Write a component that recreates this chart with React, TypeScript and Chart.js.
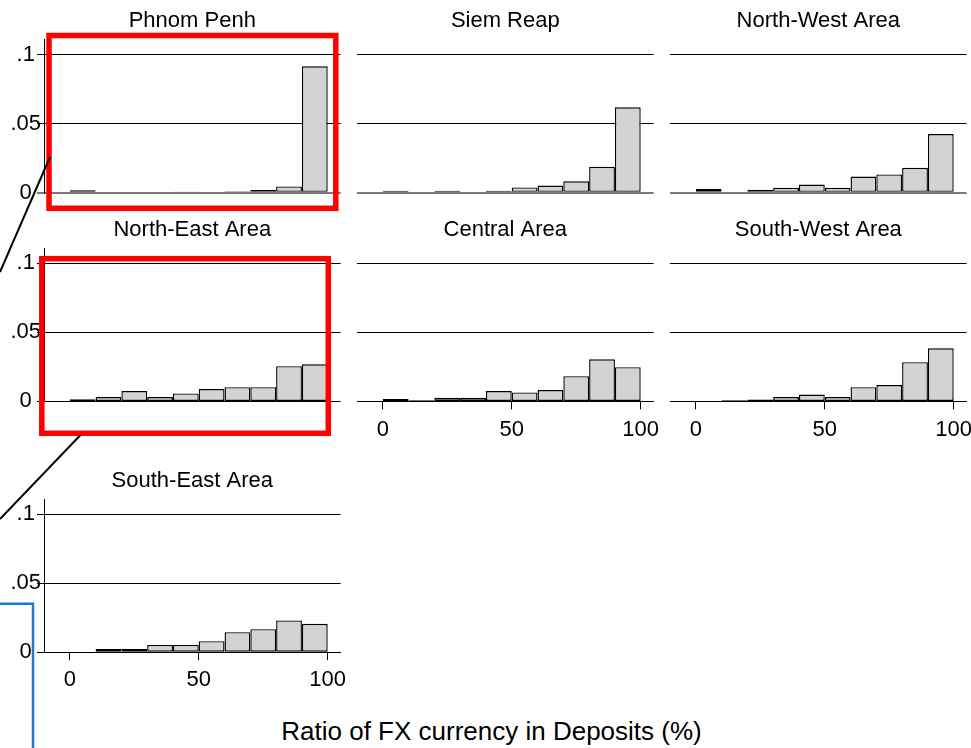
import React, { useEffect, useRef } from 'react';
import { Chart, registerables } from 'chart.js';

Chart.register(...registerables);

// ---------------- DATA ----------------
const regionNames = [
  'Phnom Penh',
  'Siem Reap',
  'North-West Area',
  'North-East Area',
  'Central Area',
  'South-West Area',
  'South-East Area',
];

// histogram bins (width 10) centred at these values
const binCenters = [5, 15, 25, 35, 45, 55, 65, 75, 85, 95];

const phnomPenh = [0.0018, null, null, null, 0.0009, null, 0.0012, 0.0021, 0.0046, 0.0916];
const siemReap = [0.0015, null, 0.0015, null, 0.0015, 0.0039, 0.0053, 0.0083, 0.0188, 0.0619];
const northWest = [0.0027, null, 0.0022, 0.0036, 0.006, 0.0036, 0.0118, 0.0133, 0.0181, 0.0425];
const northEast = [0.0015, 0.0031, 0.0075, 0.0031, 0.0058, 0.0089, 0.0103, 0.0103, 0.0255, 0.0269];
const central = [0.0018, 0.0009, 0.0026, 0.0026, 0.0075, 0.0065, 0.0082, 0.0183, 0.0305, 0.0248];
const southWest = [null, 0.0009, 0.0014, 0.0031, 0.005, 0.0031, 0.0103, 0.0118, 0.0284, 0.0385];
const southEast = [0.0004, 0.0024, 0.0024, 0.0053, 0.0053, 0.008, 0.0145, 0.0167, 0.023, 0.0206];

const regionSeries = [phnomPenh, siemReap, northWest, northEast, central, southWest, southEast];

const xTickValues = [0, 50, 100];
const xTickLabels = ['0', '50', '100'];
const yTickValues = [0, 0.05, 0.1];
const yTickLabels = ['0', '.05', '.1'];
const xAxisTitle = 'Ratio of FX currency in Deposits (%)';

// ---------------- LAYOUT ----------------
const FONT = '"Liberation Sans", Arial, Helvetica, sans-serif';
const X_MIN = -10;
const X_MAX = 105;
const Y_MAX = 0.111;
const COL_LEFT = [44, 357, 670];
const PLOT_W = 296.6;
const ROW_TOP = [39.5, 248.2, 499];
const ROW_BOTTOM = [192.8, 401.4, 652.2];
const Y_AXIS_W = 44;
const TITLE_FONT = 22;
const TITLE_PAD_BOTTOM = 5;
const TITLE_H = TITLE_FONT * 1.2 + TITLE_PAD_BOTTOM;
const X_AXIS_H = 45;
const RIGHT_PAD = 22;
// bars thinner than this are rendered as solid outline (as the outline fills them)
const THIN_BAR = 0.002;

Chart.defaults.font.family = FONT;
Chart.defaults.color = '#000';

function Panel({ index }: { index: number }) {
  const ref = useRef<HTMLCanvasElement | null>(null);
  const row = Math.floor(index / 3);
  const col = index % 3;
  const hasYAxis = col === 0;
  const hasXAxis = index >= 4;
  const canvasLeft = COL_LEFT[col] - Y_AXIS_W;
  const canvasTop = Math.floor(ROW_TOP[row] - 40);
  const width = Math.ceil(Y_AXIS_W + PLOT_W + RIGHT_PAD);
  const height = Math.ceil(ROW_BOTTOM[row] - canvasTop + 50);
  const padTop = ROW_TOP[row] - canvasTop - TITLE_H;
  const padRight = width - Y_AXIS_W - PLOT_W;
  const padBottom = height - (ROW_BOTTOM[row] - canvasTop) - (hasXAxis ? X_AXIS_H : 0);
  const padLeft = hasYAxis ? 0 : Y_AXIS_W;

  useEffect(() => {
    if (!ref.current) return;
    const series = regionSeries[index];
    const chart = new Chart(ref.current, {
      type: 'bar',
      data: {
        datasets: [
          {
            data: binCenters.map((x, i) => ({ x, y: series[i] })) as any,
            backgroundColor: (ctx: any) =>
              ctx.raw && ctx.raw.y != null && ctx.raw.y < THIN_BAR ? '#111' : '#d3d3d3',
            borderColor: '#000',
            borderWidth: 1.4,
            borderSkipped: false,
            inflateAmount: 0,
            barPercentage: 1,
            categoryPercentage: 1,
          },
        ],
      },
      options: {
        responsive: false,
        animation: false,
        events: [],
        layout: { padding: { top: padTop, right: padRight, bottom: padBottom, left: padLeft } },
        plugins: {
          legend: { display: false },
          tooltip: { enabled: false },
          title: {
            display: true,
            text: regionNames[index],
            fullSize: false,
            color: '#000',
            font: { size: TITLE_FONT, weight: 'normal', family: FONT },
            padding: { top: 0, bottom: TITLE_PAD_BOTTOM },
          },
        },
        scales: {
          x: {
            type: 'linear',
            display: hasXAxis,
            min: X_MIN,
            max: X_MAX,
            offset: false,
            afterBuildTicks: (s: any) => {
              s.ticks = xTickValues.map((v) => ({ value: v }));
            },
            afterFit: (s: any) => {
              s.height = hasXAxis ? X_AXIS_H : 0;
            },
            ticks: {
              callback: (v: any) => xTickLabels[xTickValues.indexOf(Number(v))] ?? '',
              font: { size: 22, family: FONT },
              color: '#000',
              padding: 7,
              maxRotation: 0,
              autoSkip: false,
            },
            grid: {
              offset: false,
              drawOnChartArea: false,
              drawTicks: true,
              tickLength: 8,
              color: '#000',
              lineWidth: 1,
            },
            border: { display: true, color: '#000', width: 1 },
          },
          y: {
            type: 'linear',
            min: 0,
            max: Y_MAX,
            afterBuildTicks: (s: any) => {
              s.ticks = yTickValues.map((v) => ({ value: v }));
            },
            afterFit: (s: any) => {
              s.width = hasYAxis ? Y_AXIS_W : 0;
            },
            ticks: {
              display: hasYAxis,
              callback: (v: any) => yTickLabels[yTickValues.indexOf(Number(v))] ?? '',
              font: { size: 22, family: FONT },
              color: '#000',
              crossAlign: 'center',
              padding: -4,
              autoSkip: false,
            },
            grid: {
              drawTicks: hasYAxis,
              tickLength: 7,
              color: (ctx: any) => (ctx.tick && ctx.tick.value === 0 && row === 0 ? '#7a7a7a' : '#000'),
              lineWidth: (ctx: any) => (ctx.tick && ctx.tick.value === 0 && row === 0 ? 2 : 1),
            },
            border: { display: hasYAxis, color: '#000', width: 1 },
          },
        },
      } as any,
    });
    return () => chart.destroy();
  }, [index]);

  return (
    <canvas
      ref={ref}
      width={width}
      height={height}
      style={{ position: 'absolute', left: canvasLeft, top: canvasTop, width, height }}
    />
  );
}

// annotation overlay geometry (drawn on top of the figure in the reference)
const RED = '#ff0000';
const BLUE = '#1f7ad0';

export default function App() {
  useEffect(() => {
    document.body.style.margin = '0';
  }, []);
  return (
    <div
      style={{
        position: 'absolute',
        left: 0,
        top: 0,
        width: 971,
        height: 748,
        overflow: 'hidden',
        background: '#fff',
        fontFamily: FONT,
      }}
    >
      {regionNames.map((_, i) => (
        <Panel key={i} index={i} />
      ))}
      <div
        style={{
          position: 'absolute',
          left: 0,
          top: 716,
          width: 983,
          textAlign: 'center',
          fontSize: 26,
          lineHeight: '30px',
          color: '#000',
          fontFamily: FONT,
        }}
      >
        {xAxisTitle}
      </div>
      <svg
        width={971}
        height={748}
        style={{ position: 'absolute', left: 0, top: 0, pointerEvents: 'none' }}
      >
        <rect x={49} y={35.5} width={286.8} height={172.8} fill="none" stroke={RED} strokeWidth={5.5} />
        <rect x={41.8} y={258.7} width={286.5} height={174.6} fill="none" stroke={RED} strokeWidth={5.5} />
        <line x1={50} y1={157} x2={0} y2={272} stroke="#000" strokeWidth={2} />
        <line x1={80.5} y1={435} x2={0} y2={519} stroke="#000" strokeWidth={2} />
        <polyline points="0,603.7 33,603.7 33,748" fill="none" stroke={BLUE} strokeWidth={2.5} />
      </svg>
    </div>
  );
}
